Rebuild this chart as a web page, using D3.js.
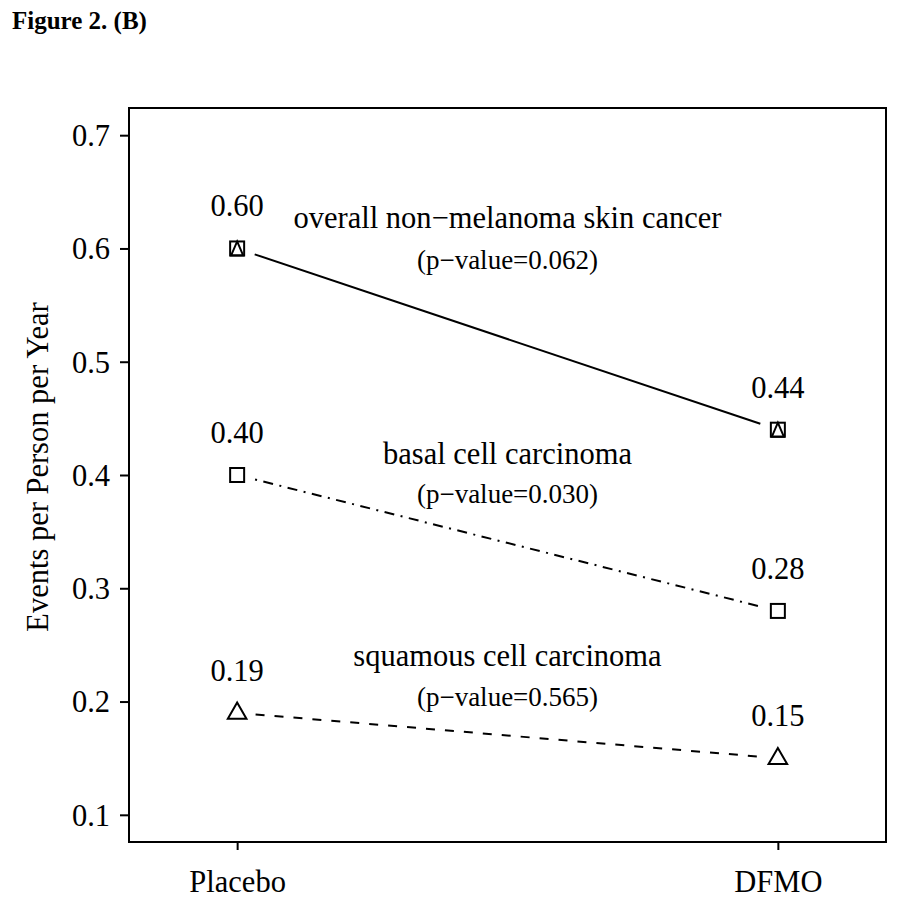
<!DOCTYPE html>
<html>
<head>
<meta charset="utf-8">
<script src="https://cdn.jsdelivr.net/npm/d3@7"></script>
<style>
  html, body { margin: 0; padding: 0; background: #fff; }
  svg { display: block; }
  text { font-family: "Liberation Serif", "Times New Roman", serif; fill: #000; }
</style>
</head>
<body>
<svg id="chart" width="899" height="903"></svg>
<script>
// ---- data ----
const groups = ["Placebo", "DFMO"];
const seriesNames = ["overall non\u2212melanoma skin cancer", "basal cell carcinoma", "squamous cell carcinoma"];
const pValues = ["(p\u2212value=0.062)", "(p\u2212value=0.030)", "(p\u2212value=0.565)"];
const placeboValues = [0.60, 0.40, 0.19];
const dfmoValues = [0.44, 0.28, 0.15];
const valueLabels = [["0.60", "0.44"], ["0.40", "0.28"], ["0.19", "0.15"]];
const yTicks = [0.1, 0.2, 0.3, 0.4, 0.5, 0.6, 0.7];

// ---- layout / style ----
const box = { left: 129, top: 108, right: 886, bottom: 842 };
const lineDash = [null, "2,6.5,10,6.5", "9,10"];
const markerKinds = ["squareTriangle", "square", "triangle"];
// annotation baselines (in data units) for series name and p-value
const nameY = [0.6185, 0.4095, 0.2315];
const pY = [0.5815, 0.3755, 0.1965];
const FS = 30.5;

const svg = d3.select("#chart");

svg.append("text")
  .attr("x", 12).attr("y", 29)
  .attr("font-size", 25).attr("font-weight", "bold")
  .text("Figure 2. (B)");

const xIdx = d3.scaleLinear().domain([0.8, 2.2]).range([box.left, box.right]);
const xPos = g => xIdx(groups.indexOf(g) + 1);
const y = d3.scaleLinear().domain([0.076, 0.724]).range([box.bottom, box.top]);

// box
svg.append("rect")
  .attr("x", box.left).attr("y", box.top)
  .attr("width", box.right - box.left).attr("height", box.bottom - box.top)
  .attr("fill", "none").attr("stroke", "#000").attr("stroke-width", 2);

// y axis
const yAxis = d3.axisLeft(y).tickValues(yTicks).tickSize(9).tickPadding(10).tickFormat(d3.format(".1f"));
const gy = svg.append("g").attr("transform", `translate(${box.left},0)`).call(yAxis);
gy.select(".domain").remove();
gy.selectAll(".tick line").attr("stroke-width", 2);
gy.selectAll(".tick text").attr("font-size", FS).attr("font-family", "Liberation Serif, serif").attr("dy", "0.34em");

// x axis
const xAxis = d3.axisBottom(xIdx).tickValues([1, 2]).tickSize(8).tickFormat(d => groups[d - 1]);
const gx = svg.append("g").attr("transform", `translate(0,${box.bottom})`).call(xAxis);
gx.select(".domain").remove();
gx.selectAll(".tick line").attr("stroke-width", 2);
gx.selectAll(".tick text").attr("font-size", FS).attr("font-family", "Liberation Serif, serif")
  .attr("dy", 0).attr("y", 50);

// y axis title
svg.append("text")
  .attr("transform", `translate(48,${(box.top + box.bottom) / 2 - 8}) rotate(-90)`)
  .attr("text-anchor", "middle").attr("font-size", FS)
  .text("Events per Person per Year");

// series
const gap = 18.5;
seriesNames.forEach((name, i) => {
  const p1 = [xPos("Placebo"), y(placeboValues[i])];
  const p2 = [xPos("DFMO"), y(dfmoValues[i])];
  const dx = p2[0] - p1[0], dy = p2[1] - p1[1];
  const len = Math.hypot(dx, dy);
  const ux = dx / len, uy = dy / len;
  const seg = [[p1[0] + ux * gap, p1[1] + uy * gap], [p2[0] - ux * gap, p2[1] - uy * gap]];
  const path = svg.append("path")
    .attr("d", d3.line()(seg))
    .attr("fill", "none").attr("stroke", "#000").attr("stroke-width", 2);
  if (lineDash[i]) path.attr("stroke-dasharray", lineDash[i]);

  [p1, p2].forEach((p, j) => {
    const kind = markerKinds[i];
    if (kind === "square" || kind === "squareTriangle") {
      svg.append("rect")
        .attr("x", p[0] - 7).attr("y", p[1] - 7).attr("width", 14).attr("height", 14)
        .attr("fill", "none").attr("stroke", "#000").attr("stroke-width", 2);
    }
    if (kind === "squareTriangle") {
      svg.append("path")
        .attr("d", `M${p[0]},${p[1] - 7}L${p[0] + 6},${p[1] + 7}L${p[0] - 6},${p[1] + 7}Z`)
        .attr("fill", "none").attr("stroke", "#000").attr("stroke-width", 2)
        .attr("stroke-linejoin", "miter");
    }
    if (kind === "triangle") {
      const s = d3.symbol().type(d3.symbolTriangle).size(150);
      svg.append("path")
        .attr("d", s())
        .attr("transform", `translate(${p[0]},${p[1] + 0.5})`)
        .attr("fill", "none").attr("stroke", "#000").attr("stroke-width", 2);
    }
    svg.append("text")
      .attr("x", p[0]).attr("y", p[1] - 32)
      .attr("text-anchor", "middle").attr("font-size", FS)
      .text(valueLabels[i][j]);
  });

  const cx = (xPos("Placebo") + xPos("DFMO")) / 2;
  svg.append("text")
    .attr("x", cx).attr("y", y(nameY[i]))
    .attr("text-anchor", "middle").attr("font-size", FS)
    .text(name);
  svg.append("text")
    .attr("x", cx).attr("y", y(pY[i]))
    .attr("text-anchor", "middle").attr("font-size", 27)
    .text(pValues[i]);
});
</script>
</body>
</html>
